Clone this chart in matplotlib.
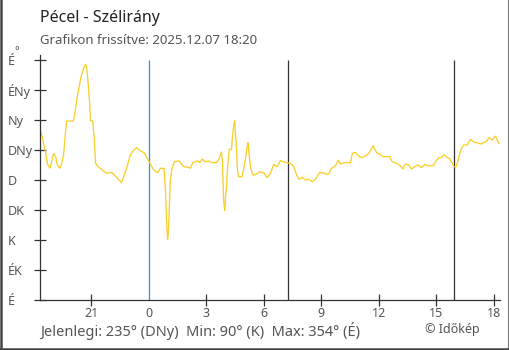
import matplotlib
matplotlib.use("Agg")
import matplotlib.pyplot as plt
from matplotlib.lines import Line2D

plt.rcParams['font.family'] = ['Noto Sans', 'DejaVu Sans']

# ido (ora, ejfeltol szamolva; negativ = elozo nap) es szelirany (fok)
hours = [-5.62, -5.51, -5.38, -5.29, -5.15, -5.06, -4.96, -4.85, -4.77, -4.61,
         -4.54, -4.44, -4.36, -4.28, -3.93, -3.84, -3.74, -3.63, -3.53, -3.41,
         -3.29, -3.22, -3.15, -3.08, -3.04, -2.92, -2.83, -2.77, -2.63, -2.36,
         -2.19, -1.93, -1.74, -1.42, -1.30, -1.13, -0.96, -0.78, -0.63, -0.43,
         -0.21, -0.05, 0.09, 0.26, 0.47, 0.61, 0.80, 0.84, 0.89, 0.92,
         0.96, 0.99, 1.04, 1.08, 1.13, 1.22, 1.34, 1.60, 1.71, 1.83,
         2.09, 2.18, 2.30, 2.44, 2.53, 2.66, 2.80, 2.96, 3.13, 3.31,
         3.53, 3.69, 3.79, 3.85, 3.88, 3.91, 3.97, 4.00, 4.06, 4.12,
         4.20, 4.32, 4.38, 4.44, 4.49, 4.52, 4.58, 4.63, 4.68, 4.87,
         4.96, 5.05, 5.14, 5.19, 5.24, 5.31, 5.40, 5.48, 5.66, 5.79,
         6.00, 6.18, 6.35, 6.52, 6.70, 6.87, 7.13, 7.40, 7.57, 7.69,
         7.83, 8.01, 8.18, 8.35, 8.53, 8.70, 8.91, 9.08, 9.26, 9.39,
         9.54, 9.74, 9.89, 10.01, 10.18, 10.53, 10.63, 10.79, 10.96, 11.09,
         11.31, 11.48, 11.61, 11.71, 11.80, 11.92, 12.09, 12.23, 12.58, 12.70,
         12.96, 13.14, 13.26, 13.40, 13.57, 13.71, 13.87, 14.04, 14.23, 14.41,
         14.58, 14.87, 15.00, 15.14, 15.28, 15.40, 15.57, 15.71, 15.84, 15.92,
         16.04, 16.15, 16.23, 16.32, 16.44, 16.62, 16.79, 16.96, 17.14, 17.31,
         17.48, 17.61, 17.75, 17.92, 18.10, 18.18, 18.27]
direction = [252.5, 238.5, 222, 205, 197.5, 207.5, 220, 215, 202.5, 197.5,
             205, 217.5, 245, 268.5, 268.5, 282.5, 302.5, 320, 335, 346.5,
             354, 345, 322.5, 295, 269.5, 268.5, 240, 205, 200, 193.5,
             190, 191.5, 186, 176, 185, 200, 217.5, 225, 228.5, 224,
             220, 211, 204, 195, 191, 197.5, 197.5, 182.5, 155, 130,
             105, 90, 107.5, 140, 180, 197.5, 207.5, 208.5, 204, 200,
             199, 197.5, 206, 207.5, 208.5, 206.5, 211.5, 207.5, 208.5, 206,
             206, 212.5, 222.5, 207.5, 180, 150, 133.5, 150, 170, 200,
             226, 226, 247.5, 262.5, 269, 252.5, 227.5, 197.5, 185, 185,
             197.5, 212.5, 230, 236, 217.5, 200, 190, 187, 190, 192,
             191, 183.5, 190, 203.5, 200, 209, 206.5, 205, 200, 190,
             181, 184, 180, 181, 177.5, 181, 191, 191, 188.5, 189,
             197.5, 201, 210, 204, 206, 206, 220, 221.5, 216, 213.5,
             216, 220, 226, 231.5, 226, 220, 218.5, 215, 215, 207.5,
             205, 201, 196.5, 204, 202.5, 196.5, 200, 202.5, 198.5, 203.5,
             201, 202, 209, 213.5, 213.5, 218, 214, 211.5, 205, 200,
             200, 210, 220, 227.5, 232.5, 232.5, 241, 237, 236, 234,
             236, 237.5, 243.5, 240, 246, 240, 235]

midnight = 0.0
sunrise = 7.28
sunset = 15.92

x_ticks = [-3, 0, 3, 6, 9, 12, 15, 18]
x_labels = ['21', '0', '3', '6', '9', '12', '15', '18']
y_ticks = [0, 45, 90, 135, 180, 225, 270, 315, 360]
y_labels = ['É', 'ÉK', 'K', 'DK', 'D', 'DNy', 'Ny', 'ÉNy', 'É']

title = 'Pécel - Szélirány'
subtitle = 'Grafikon frissítve: 2025.12.07 18:20'
summary = 'Jelenlegi: 235° (DNy)  Min: 90° (K)  Max: 354° (É)'
credit = '© Időkép'

W, H = 510, 350
fig = plt.figure(figsize=(W / 100, H / 100), dpi=100)
ax = fig.add_axes([40 / W, 50 / H, 460 / W, 245 / H])

dark = '#333333'
gray = '#555555'

ax.vlines([sunrise, sunset], 0, 360, color=dark, lw=0.9)
ax.vlines([midnight], 0, 360, color='#2a90d8', lw=0.9)
ax.plot(hours, direction, color='#fbcf2a', lw=0.95, solid_joinstyle='miter')

ax.set_xlim(-5.67, 18.33)
ax.set_ylim(0, 367.5)
ax.set_xticks(x_ticks)
ax.set_xticklabels(x_labels)
ax.set_yticks(y_ticks)
ax.set_yticklabels(y_labels)

for s in ['top', 'right']:
    ax.spines[s].set_visible(False)
for s in ['left', 'bottom']:
    ax.spines[s].set_color(dark)
    ax.spines[s].set_linewidth(0.9)

ax.tick_params(axis='both', direction='inout', length=8.6, width=0.9,
               color=dark, labelcolor=gray, labelsize=9)
ax.tick_params(axis='x', pad=1)
ax.tick_params(axis='y', pad=19)
for lab in ax.get_yticklabels():
    lab.set_horizontalalignment('left')
ax.xaxis.get_major_ticks()[1].tick1line.set_visible(False)

fig.text(40 / W, 1 - 18 / H, title, fontsize=11.5, color='#222222', va='center')
fig.text(40 / W, 1 - 41 / H, subtitle, fontsize=9.5, color=gray, va='center')
fig.text(14 / W, 1 - 52 / H, '°', fontsize=8, color=gray, va='center')
fig.text(40 / W, 1 - 331 / H, summary, fontsize=10.5, color=gray, va='center')
fig.text(425 / W, 1 - 330 / H, credit, fontsize=9, color=gray, va='center')

# keret (bal, jobb, also)
for xs, ys in [([0.5 / W, 0.5 / W], [0, 1]),
               ([1 - 1 / W, 1 - 1 / W], [0, 1]),
               ([0, 1], [1.5 / H, 1.5 / H])]:
    fig.add_artist(Line2D(xs, ys, color='#444444', lw=1.8))

fig.savefig('out.png', dpi=100)
